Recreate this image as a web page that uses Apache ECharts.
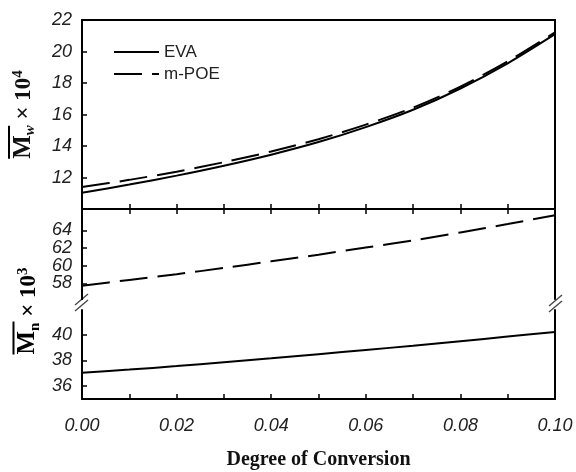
<!DOCTYPE html>
<html>
<head>
<meta charset="utf-8">
<script src="https://cdn.jsdelivr.net/npm/echarts@6/dist/echarts.min.js"></script>
<style>
  html, body { margin: 0; padding: 0; background: #fff; }
  #chart { width: 576px; height: 472px; }
</style>
</head>
<body>
<div id="chart"></div>
<script>
// 转化率（x 轴）
const xs = [0, 0.01, 0.02, 0.03, 0.04, 0.05, 0.06, 0.07, 0.08, 0.09, 0.10];
// 上图：Mw × 10^4
const mwEVA = [11.03, 11.55, 12.12, 12.75, 13.45, 14.25, 15.2, 16.3, 17.65, 19.25, 21.1];
const mwPOE = [11.39, 11.85, 12.37, 12.97, 13.65, 14.43, 15.36, 16.44, 17.77, 19.37, 21.22];
// 下图：Mn × 10^3（断轴）
const mnPOE = [57.75, 58.4, 59.05, 59.75, 60.5, 61.25, 62.05, 62.85, 63.75, 64.7, 65.7];
const mnEVA = [37.03, 37.28, 37.55, 37.85, 38.15, 38.47, 38.8, 39.13, 39.48, 39.84, 40.2];
// 刻度标签（上段标签太密，分两组画，避免被自动隐藏）
const mnUpperTicksA = [58, 62];
const mnUpperTicksB = [60, 64];
const mnLowerTicks = [36, 38, 40];

const pair = vals => xs.map((x, i) => [x, vals[i]]);

const chart = echarts.init(document.getElementById('chart'));

const black = '#000';
const line = { show: true, lineStyle: { color: black, width: 2 } };
const tick = { show: true, inside: true, length: 5, lineStyle: { color: black, width: 1.5 } };
const labelFont = { fontSize: 18, fontStyle: 'italic', fontFamily: 'Liberation Sans, Arial', color: '#222' };

function xAxis(grid, position, showLabel) {
  return {
    type: 'value', gridIndex: grid, position: position,
    min: 0, max: 0.1, interval: 0.01,
    splitLine: { show: false },
    axisLine: line, axisTick: tick,
    axisLabel: Object.assign({
      show: showLabel, margin: 18,
      formatter: v => (Math.round(v * 100) % 2 === 0 ? v.toFixed(2) : '')
    }, labelFont)
  };
}

function sideAxis(grid) {
  return {
    type: 'value', gridIndex: grid, position: 'right',
    axisLine: line, axisTick: { show: false }, axisLabel: { show: false },
    splitLine: { show: false }
  };
}

function upperAxis(ticks) {
  return {
    type: 'value', gridIndex: 1, position: 'left', offset: 0, min: 56.25, max: 66.4,
    splitLine: { show: false }, axisLine: line,
    axisTick: Object.assign({ customValues: ticks }, tick),
    axisLabel: Object.assign({ margin: 10, customValues: ticks, showMinLabel: true, showMaxLabel: true }, labelFont)
  };
}

// y 轴名称用富文本：上划线 + 下标 + 上标
const serif = 'Liberation Serif, Times New Roman';
const nameRich = {
  ov: { width: 33, height: 2, backgroundColor: black, align: 'left', lineHeight: 4, fontSize: 2 },
  m: { fontSize: 25, fontWeight: 'bold', fontFamily: serif, color: '#111', verticalAlign: 'bottom' },
  sub: { fontSize: 15, fontWeight: 'bold', fontStyle: 'italic', fontFamily: serif, color: '#111', verticalAlign: 'bottom', padding: [0, 0, -2, 0] },
  subn: { fontSize: 15, fontWeight: 'bold', fontFamily: serif, color: '#111', verticalAlign: 'bottom', padding: [0, 0, -2, 0] },
  t: { fontSize: 23, fontWeight: 'bold', fontFamily: serif, color: '#111', verticalAlign: 'bottom' },
  s: { fontSize: 15, fontWeight: 'bold', fontFamily: serif, color: '#111', verticalAlign: 'top' }
};

const option = {
  backgroundColor: '#fff',
  animation: false,
  grid: [
    { left: 82, right: 21, top: 20, height: 189, show: true, borderColor: black, borderWidth: 2 },
    { left: 82, right: 21, top: 209, height: 90 },
    { left: 82, right: 21, top: 310, height: 89 }
  ],
  legend: {
    data: ['EVA', 'm-POE'],
    orient: 'vertical', left: 108, top: 37,
    itemWidth: 45, itemHeight: 14, itemGap: 2,
    itemStyle: { opacity: 0 },
    textStyle: { fontSize: 17, fontFamily: 'Liberation Sans, Arial', color: '#222', lineHeight: 20 }
  },
  xAxis: [
    xAxis(0, 'bottom', false),
    xAxis(1, 'top', false),
    Object.assign(xAxis(2, 'bottom', true), {
      name: 'Degree of Conversion', nameLocation: 'middle', nameGap: 51,
      nameTextStyle: { fontSize: 20, fontWeight: 'bold', fontFamily: serif, color: '#111' }
    })
  ],
  yAxis: [
    {
      type: 'value', gridIndex: 0, min: 10, max: 22, interval: 2,
      splitLine: { show: false }, axisLine: line, axisTick: tick,
      axisLabel: Object.assign({ margin: 10, showMinLabel: false }, labelFont),
      name: '{ov| }\n{m|M}{sub|w}{t| × 10}{s|4}',
      nameLocation: 'middle', nameGap: 46,
      nameTextStyle: { rich: nameRich }
    },
    upperAxis(mnUpperTicksA),
    {
      type: 'value', gridIndex: 2, min: 35, max: 41.9,
      splitLine: { show: false }, axisLine: line,
      axisTick: Object.assign({ customValues: mnLowerTicks }, tick),
      axisLabel: Object.assign({ margin: 10, customValues: mnLowerTicks, showMinLabel: true, showMaxLabel: true }, labelFont)
    },
    Object.assign(sideAxis(1), { min: 56.25, max: 66.4 }),
    Object.assign(sideAxis(2), { min: 35, max: 41.9 }),
    upperAxis(mnUpperTicksB)
  ],
  series: [
    { name: 'EVA', type: 'line', xAxisIndex: 0, yAxisIndex: 0, data: pair(mwEVA), symbol: 'none', smooth: 0.3,
      lineStyle: { color: black, width: 2 }, itemStyle: { color: black } },
    { name: 'm-POE', type: 'line', xAxisIndex: 0, yAxisIndex: 0, data: pair(mwPOE), symbol: 'none', smooth: 0.3,
      lineStyle: { color: black, width: 2, type: [28, 10] }, itemStyle: { color: black } },
    { name: 'm-POE', type: 'line', xAxisIndex: 1, yAxisIndex: 1, data: pair(mnPOE), symbol: 'none', smooth: 0.3,
      lineStyle: { color: black, width: 2, type: [28, 10] }, itemStyle: { color: black } },
    { name: 'EVA', type: 'line', xAxisIndex: 2, yAxisIndex: 2, data: pair(mnEVA), symbol: 'none', smooth: 0.3,
      lineStyle: { color: black, width: 2 }, itemStyle: { color: black } }
  ],
  graphic: [
    // 断轴标记
    { type: 'line', shape: { x1: 75, y1: 305, x2: 88, y2: 294 }, style: { stroke: '#444', lineWidth: 1.3 } },
    { type: 'line', shape: { x1: 75, y1: 311, x2: 88, y2: 300 }, style: { stroke: '#444', lineWidth: 1.3 } },
    { type: 'line', shape: { x1: 549, y1: 306, x2: 562, y2: 295 }, style: { stroke: '#444', lineWidth: 1.3 } },
    { type: 'line', shape: { x1: 549, y1: 312, x2: 562, y2: 301 }, style: { stroke: '#444', lineWidth: 1.3 } },
    // 下图 y 轴名称
    {
      type: 'text', x: 26, y: 311, rotation: Math.PI / 2,
      style: {
        text: '{ov| }\n{m|M}{subn|n}{t| × 10}{s|3}',
        rich: nameRich, align: 'center', verticalAlign: 'middle'
      }
    }
  ]
};

chart.setOption(option);
</script>
</body>
</html>
